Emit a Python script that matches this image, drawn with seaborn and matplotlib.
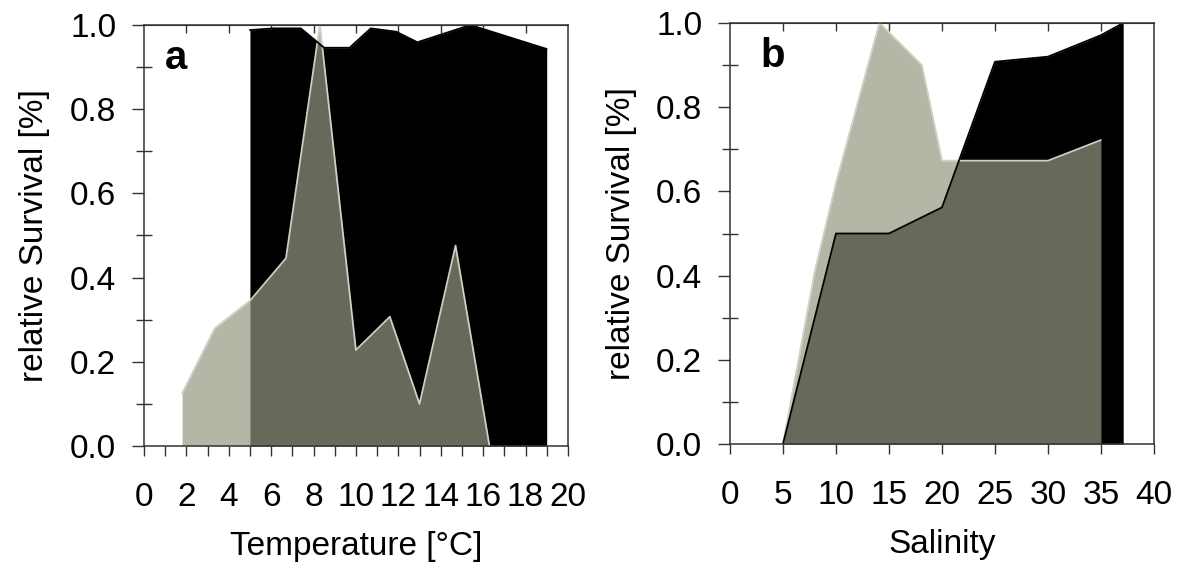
import numpy as np
import matplotlib
matplotlib.use("Agg")
import matplotlib.pyplot as plt
import seaborn as sns
from matplotlib.ticker import MultipleLocator, FormatStrFormatter

# panel a: temperature
temp_ctrl_x = [5.0, 6.1, 7.4, 8.5, 9.7, 10.7, 11.9, 12.9, 15.4, 19.0]
temp_ctrl_y = [0.988, 0.992, 0.992, 0.946, 0.946, 0.992, 0.984, 0.959, 1.0, 0.943]
temp_treat_x = [1.8, 3.35, 5.0, 6.7, 8.3, 10.0, 11.6, 13.0, 14.7, 16.3]
temp_treat_y = [0.125, 0.28, 0.345, 0.446, 1.0, 0.228, 0.307, 0.10, 0.476, 0.0]

# panel b: salinity
sal_ctrl_x = [5, 10, 15, 20, 25, 30, 35, 37.1]
sal_ctrl_y = [0.0, 0.5, 0.5, 0.562, 0.908, 0.92, 0.971, 1.0]
sal_treat_x = [5, 8, 10, 14.1, 18.1, 20, 30, 35]
sal_treat_y = [0.0, 0.41, 0.62, 1.0, 0.90, 0.673, 0.673, 0.722]

sns.set_style("ticks")
plt.rcParams['font.family'] = ['Liberation Sans', 'DejaVu Sans']
plt.rcParams['font.size'] = 24
plt.rcParams['text.color'] = 'black'
plt.rcParams['axes.labelcolor'] = 'black'
plt.rcParams['xtick.labelcolor'] = 'black'
plt.rcParams['ytick.labelcolor'] = 'black'

fig = plt.figure(figsize=(11.77, 5.68), dpi=100)
ax1 = fig.add_axes([0.1223, 0.2148, 0.3602, 0.7412])
ax2 = fig.add_axes([0.6202, 0.2183, 0.3602, 0.7412])

gray = '#979782'
spine_col = '#333333'


def panel(ax, cx, cy, tx, ty, xmax, xmaj, xmin_step, toptick, letter, lx, xlabel):
    ax.fill_between(cx, 0, cy, color='black', lw=0)
    ax.fill_between(tx, 0, ty, color=gray, alpha=0.7, lw=0)
    sns.lineplot(x=tx, y=ty, sort=False, color='#cfcfc6', lw=1.3, ax=ax)
    sns.lineplot(x=cx, y=cy, sort=False, color='black', lw=1.3, ax=ax)
    ax.set_xlim(0, xmax)
    ax.set_ylim(0, 1.0)
    ax.xaxis.set_major_locator(MultipleLocator(xmaj))
    ax.xaxis.set_minor_locator(MultipleLocator(xmin_step))
    ax.yaxis.set_major_locator(MultipleLocator(0.2))
    ax.yaxis.set_minor_locator(MultipleLocator(0.1))
    ax.yaxis.set_major_formatter(FormatStrFormatter('%.1f'))
    ax.tick_params(axis='x', which='both', direction='out', length=7, width=1,
                   color=spine_col, pad=19)
    ax.tick_params(axis='y', which='major', direction='out', length=9, width=1,
                   color=spine_col, pad=11)
    ax.tick_params(axis='y', which='minor', direction='inout', length=12, width=1,
                   color=spine_col)
    for s in ax.spines.values():
        s.set_visible(True)
        s.set_color(spine_col)
        s.set_linewidth(1.1)
    sec = ax.secondary_xaxis('top')
    sec.set_xticks(toptick)
    sec.tick_params(direction='in', length=6, width=1, color=spine_col, labeltop=False)
    sec.spines['top'].set_color(spine_col)
    ax.set_ylabel('relative Survival [%]', labelpad=14)
    ax.set_xlabel(xlabel, labelpad=13)
    ax.text(lx, 0.895, letter, transform=ax.transAxes, fontsize=29,
            fontweight='bold', ha='center', va='baseline')


panel(ax1, temp_ctrl_x, temp_ctrl_y, temp_treat_x, temp_treat_y, 20, 2, 1,
      list(range(2, 19, 2)), 'a', 0.075, 'Temperature [°C]')
panel(ax2, sal_ctrl_x, sal_ctrl_y, sal_treat_x, sal_treat_y, 40, 5, 5,
      list(range(5, 36, 5)), 'b', 0.10, 'Salinity')

fig.savefig('out.png', dpi=100)
